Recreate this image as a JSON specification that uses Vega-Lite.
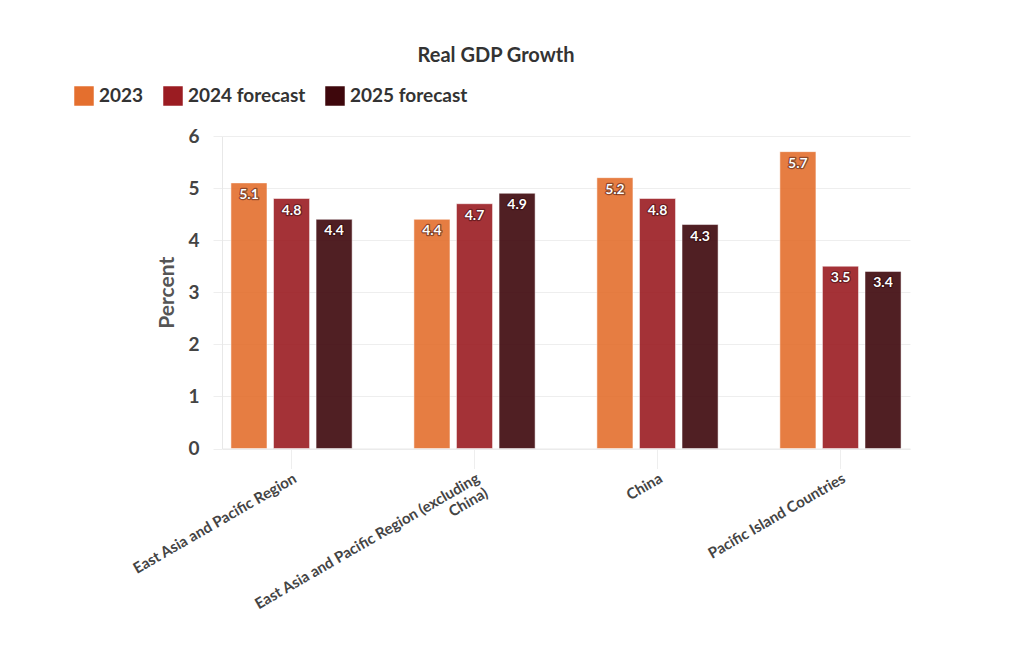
{
  "$schema": "https://vega.github.io/schema/vega-lite/v6.json",
  "autosize": "none",
  "width": 688,
  "height": 312.5,
  "padding": {"left": 222, "top": 136, "right": 110, "bottom": 201.5},
  "background": "white",
  "config": {
    "font": "Lato",
    "view": {"stroke": null}
  },
  "title": {
    "text": "Real GDP Growth",
    "fontSize": 20,
    "fontWeight": "bold",
    "color": "#333",
    "dx": -70,
    "offset": 20
  },
  "data": {
    "values": [
      {"region": "East Asia and Pacific Region", "series": "2023", "value": 5.1},
      {"region": "East Asia and Pacific Region", "series": "2024 forecast", "value": 4.8},
      {"region": "East Asia and Pacific Region", "series": "2025 forecast", "value": 4.4},
      {"region": "East Asia and Pacific Region (excluding China)", "series": "2023", "value": 4.4},
      {"region": "East Asia and Pacific Region (excluding China)", "series": "2024 forecast", "value": 4.7},
      {"region": "East Asia and Pacific Region (excluding China)", "series": "2025 forecast", "value": 4.9},
      {"region": "China", "series": "2023", "value": 5.2},
      {"region": "China", "series": "2024 forecast", "value": 4.8},
      {"region": "China", "series": "2025 forecast", "value": 4.3},
      {"region": "Pacific Island Countries", "series": "2023", "value": 5.7},
      {"region": "Pacific Island Countries", "series": "2024 forecast", "value": 3.5},
      {"region": "Pacific Island Countries", "series": "2025 forecast", "value": 3.4}
    ]
  },
  "encoding": {
    "x": {
      "field": "region",
      "type": "nominal",
      "sort": null,
      "scale": {"paddingInner": 0.24, "paddingOuter": 0},
      "axis": {
        "title": null,
        "labelAngle": -30,
        "labelAlign": "right",
        "labelBaseline": "top",
        "labelFontSize": 15,
        "labelFontWeight": "bold",
        "labelColor": "#444",
        "labelPadding": 2,
        "labelLimit": 400,
        "labelExpr": "datum.label == 'East Asia and Pacific Region (excluding China)' ? ['East Asia and Pacific Region (excluding', 'China)'] : datum.label",
        "tickSize": 20,
        "tickColor": "#eeeeee",
        "domainColor": "#e8e8e8"
      }
    },
    "xOffset": {
      "field": "series",
      "type": "nominal",
      "scale": {"paddingInner": 0.153, "paddingOuter": 0.21}
    },
    "y": {
      "field": "value",
      "type": "quantitative",
      "scale": {"domain": [0, 6]},
      "axis": {
        "title": "Percent",
        "titleFontSize": 21,
        "titleFontWeight": "bold",
        "titleColor": "#555",
        "titlePadding": 10,
        "values": [0, 1, 2, 3, 4, 5, 6],
        "labelFontSize": 19,
        "labelFontWeight": "bold",
        "labelColor": "#444",
        "labelPadding": 14,
        "tickSize": 9,
        "tickColor": "#eeeeee",
        "gridColor": "#eeeeee",
        "domainColor": "#e8e8e8"
      }
    }
  },
  "layer": [
    {
      "mark": {"type": "bar", "opacity": 0.9, "stroke": "white", "strokeWidth": 0.5},
      "encoding": {
        "color": {
          "field": "series",
          "type": "nominal",
          "scale": {"domain": ["2023", "2024 forecast", "2025 forecast"], "range": ["#e46f2e", "#9b1c22", "#3e070c"]},
          "legend": {
            "title": null,
            "orient": "none",
            "direction": "horizontal",
            "legendX": -148,
            "legendY": -50,
            "symbolType": "square",
            "symbolSize": 380,
            "symbolOpacity": 1,
            "symbolStrokeWidth": 0,
            "labelFontSize": 19,
            "labelFontWeight": "bold",
            "labelColor": "#333",
            "labelOffset": 5,
            "columnPadding": 19
          }
        }
      }
    },
    {
      "mark": {"type": "text", "baseline": "top", "dy": 5, "fontSize": 14, "fontWeight": "bold", "fill": "#2a0508", "stroke": "#2a0508", "strokeWidth": 2.5, "strokeOpacity": 0.45, "strokeJoin": "round"},
      "encoding": {"text": {"field": "value", "type": "quantitative", "format": ".1f"}}
    },
    {
      "mark": {"type": "text", "baseline": "top", "dy": 5, "fontSize": 14, "fontWeight": "bold", "fill": "white"},
      "encoding": {"text": {"field": "value", "type": "quantitative", "format": ".1f"}}
    }
  ]
}
